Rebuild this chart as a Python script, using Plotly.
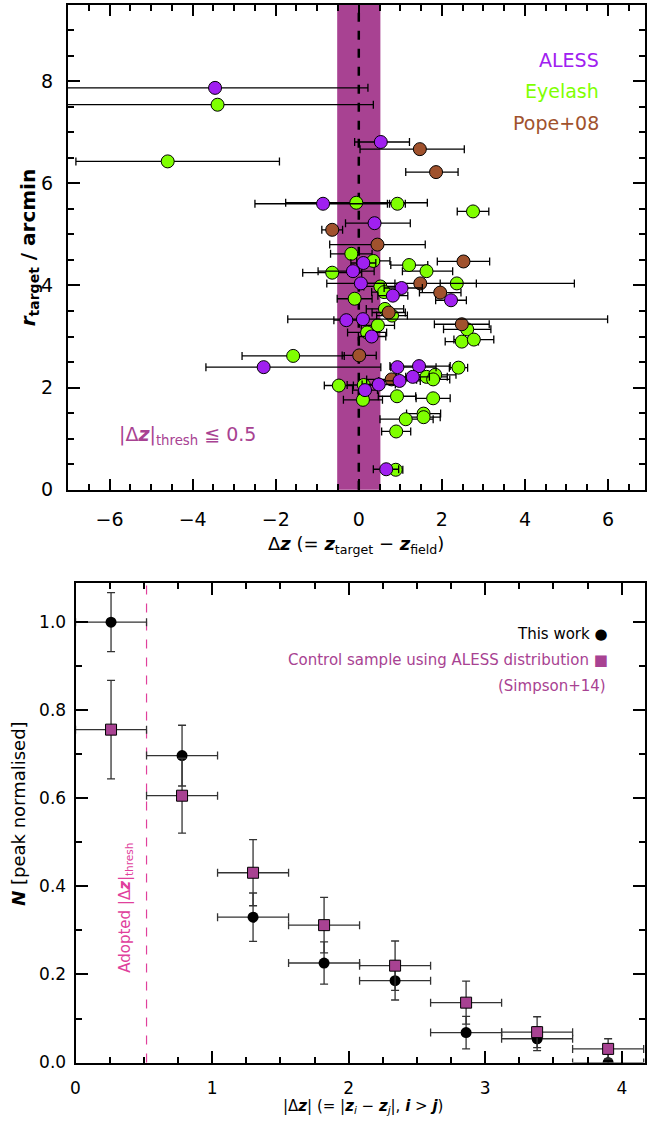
import plotly.graph_objects as go

# ---------------- top panel data ----------------
aless_dz = [-3.46, 0.53, -0.86, 0.38, 0.11, -0.14, 0.05, 1.03, 0.82, 2.22, -0.30, 0.10, 0.31, -2.29, 0.93, 1.45, 1.30, 0.98, 0.48, 0.15, 0.66]
aless_r = [7.87, 6.81, 5.60, 5.22, 4.44, 4.28, 4.04, 3.95, 3.80, 3.71, 3.32, 3.34, 3.00, 2.40, 2.40, 2.42, 2.21, 2.13, 2.06, 1.95, 0.40]
aless_ep = [3.68, 0.69, 1.55, 0.86, 0.30, 0.51, 0.82, 0.50, 0.36, 0.37, 0.30, 5.89, 0.34, 2.82, 0.93, 0.75, 0.40, 0.50, 0.40, 0.30, 0.30]
aless_em = [3.68, 0.63, 1.64, 0.70, 0.30, 0.84, 0.82, 0.42, 0.36, 0.37, 0.30, 1.81, 0.32, 1.39, 0.16, 0.70, 0.40, 0.50, 0.40, 0.30, 0.31]

eye_dz = [-3.40, -4.60, -0.06, 0.93, 2.75, -0.18, 0.35, 1.21, -0.64, 1.63, 2.36, 0.52, 0.61, -0.10, 0.63, 0.80, 0.46, 2.61, 0.20, 2.48, 2.77, -1.58, 2.40, 1.63, 1.84, 1.79, -0.48, 0.12, 0.10, 0.92, 1.79, 1.56, 1.56, 1.13, 0.90, 0.89]
eye_r = [7.54, 6.43, 5.62, 5.60, 5.45, 4.62, 4.48, 4.40, 4.25, 4.28, 4.04, 3.98, 3.87, 3.74, 3.54, 3.41, 3.22, 3.14, 3.08, 2.90, 2.94, 2.62, 2.39, 2.21, 2.25, 2.16, 2.04, 2.05, 1.76, 1.83, 1.79, 1.49, 1.42, 1.38, 1.14, 0.39]
eye_ep = [3.75, 2.69, 1.71, 0.19, 0.38, 0.50, 0.40, 0.45, 0.71, 0.63, 2.83, 0.40, 0.30, 0.42, 0.45, 0.37, 0.40, 0.57, 0.47, 0.40, 0.48, 1.23, 0.22, 0.50, 0.50, 0.40, 0.35, 0.40, 0.47, 0.45, 0.41, 0.41, 0.40, 0.66, 0.35, 0.17]
eye_em = [3.75, 2.21, 1.70, 0.19, 0.38, 0.50, 0.40, 0.44, 0.71, 0.58, 0.40, 0.40, 0.30, 0.42, 0.45, 0.37, 0.40, 0.57, 0.47, 0.40, 0.48, 1.23, 0.22, 0.50, 0.50, 0.40, 0.35, 0.40, 0.47, 0.45, 0.41, 0.41, 0.40, 0.62, 0.35, 0.17]

pope_dz = [1.47, 1.86, -0.64, 0.45, 2.52, 1.48, 1.96, 0.72, 2.48, 0.01, 0.79]
pope_r = [6.67, 6.22, 5.09, 4.80, 4.47, 4.04, 3.86, 3.47, 3.24, 2.63, 2.16]
pope_ep = [1.07, 0.53, 0.25, 1.15, 0.63, 1.35, 0.50, 0.40, 0.66, 0.41, 0.60]
pope_em = [1.44, 0.73, 0.25, 1.15, 0.63, 1.35, 0.50, 0.40, 0.66, 0.41, 0.60]

dz_thresh = 0.52

# ---------------- bottom panel data ----------------
bin_centres = [0.26, 0.78, 1.30, 1.82, 2.34, 2.86, 3.38, 3.90]
bin_halfwidth = [0.26] * 8
this_work_N = [1.00, 0.697, 0.330, 0.226, 0.186, 0.068, 0.054, 0.0]
this_work_err = [0.067, 0.069, 0.055, 0.048, 0.044, 0.037, 0.027, 0.02]
control_N = [0.756, 0.606, 0.431, 0.312, 0.220, 0.136, 0.069, 0.031]
control_err = [0.112, 0.085, 0.075, 0.063, 0.056, 0.049, 0.035, 0.023]

PURPLE = "#A020F0"
GREEN = "#7FFF00"
BROWN = "#A0522D"
MAGENTA = "#A84292"
PINK = "#E0409C"
FONT = "DejaVu Sans"

fig = go.Figure()

def add_top(xv, yv, ep, em, col):
    fig.add_trace(go.Scatter(
        x=xv, y=yv, mode="markers", xaxis="x", yaxis="y",
        marker=dict(size=13, color=col, line=dict(color="black", width=1)),
        error_x=dict(type="data", symmetric=False, array=ep, arrayminus=em,
                     color="black", thickness=1.3, width=4),
        showlegend=False))

add_top(eye_dz, eye_r, eye_ep, eye_em, GREEN)
add_top(pope_dz, pope_r, pope_ep, pope_em, BROWN)
add_top(aless_dz, aless_r, aless_ep, aless_em, PURPLE)

fig.add_trace(go.Scatter(
    x=bin_centres, y=this_work_N, mode="markers", xaxis="x2", yaxis="y2",
    marker=dict(size=11, color="black", symbol="circle"),
    error_x=dict(type="data", array=bin_halfwidth, color="#333333", thickness=1.3, width=4),
    error_y=dict(type="data", array=this_work_err, color="#333333", thickness=1.3, width=4),
    showlegend=False))
fig.add_trace(go.Scatter(
    x=bin_centres, y=control_N, mode="markers", xaxis="x2", yaxis="y2",
    marker=dict(size=11, color=MAGENTA, symbol="square", line=dict(color="black", width=1)),
    error_x=dict(type="data", array=bin_halfwidth, color="#333333", thickness=1.3, width=4),
    error_y=dict(type="data", array=control_err, color="#333333", thickness=1.3, width=4),
    showlegend=False))

W, H = 647, 1128
top_l, top_t, top_b = 63.7, 4.7, 494.5
bot_l, bot_t, bot_b = 71.3, 588.3, 1073.0

axis_common = dict(showline=True, linewidth=2, linecolor="black", mirror="ticks",
                   ticks="inside", tickwidth=1.5, tickcolor="black", showgrid=False,
                   zeroline=False)

fig.update_layout(
    width=W, height=H, margin=dict(l=0, r=0, t=0, b=0),
    paper_bgcolor="white", plot_bgcolor="white",
    font=dict(family=FONT, color="black"),
    xaxis=dict(domain=[top_l / W, 1], range=[-7, 6.89], anchor="y", dtick=2, tick0=0,
               ticklen=11, minor=dict(dtick=0.5, ticklen=6, ticks="inside", tickwidth=1.5, tickcolor="black"),
               tickfont=dict(size=19), ticklabelstandoff=12, **axis_common),
    yaxis=dict(domain=[1 - top_b / H, 1 - top_t / H], range=[0, 9.5], anchor="x", dtick=2, tick0=0,
               ticklen=12, minor=dict(dtick=0.5, ticklen=6, ticks="inside", tickwidth=1.5, tickcolor="black"),
               tickfont=dict(size=19), ticklabelstandoff=9, **axis_common),
    xaxis2=dict(domain=[bot_l / W, 1], range=[0, 4.17], anchor="y2", dtick=1, tick0=0,
                ticklen=12, minor=dict(dtick=0.25, ticklen=6, ticks="inside", tickwidth=1.5, tickcolor="black"),
                tickfont=dict(size=17), ticklabelstandoff=9, **axis_common),
    yaxis2=dict(domain=[1 - bot_b / H, 1 - bot_t / H], range=[0, 1.09], anchor="x2", dtick=0.2, tick0=0,
                tickformat=".1f", ticklen=12,
                minor=dict(dtick=0.1, ticklen=6, ticks="inside", tickwidth=1.5, tickcolor="black"),
                tickfont=dict(size=17), ticklabelstandoff=4, **axis_common),
)

# threshold band and zero line (top)
fig.add_shape(type="rect", xref="x", yref="y domain", x0=-dz_thresh, x1=dz_thresh, y0=0, y1=1,
              fillcolor=MAGENTA, line=dict(width=0), layer="below")
fig.add_shape(type="line", xref="x", yref="y domain", x0=0, x1=0, y0=0, y1=1,
              line=dict(color="black", width=2.5, dash="dash"), layer="below")
# threshold line (bottom)
fig.add_shape(type="line", xref="x2", yref="y2 domain", x0=dz_thresh, x1=dz_thresh, y0=0, y1=1,
              line=dict(color=PINK, width=1.2, dash="dash"), layer="below")

def px_ann(text, x, y, size, color="black", xanchor="center", yanchor="middle", angle=0):
    fig.add_annotation(text=text, x=x / W, y=1 - y / H, xref="paper", yref="paper",
                       showarrow=False, xanchor=xanchor, yanchor=yanchor, textangle=angle,
                       font=dict(size=size, color=color, family=FONT))

# top panel labels
px_ann("ALESS", 603, 61, 19, PURPLE, xanchor="right")
px_ann("Eyelash", 603, 92, 19, GREEN, xanchor="right")
px_ann("Pope+08", 603, 124, 19, BROWN, xanchor="right")
px_ann("|Δ<i><b>z</b></i>|<sub>thresh</sub> ≦ 0.5", 113, 440, 19, MAGENTA, xanchor="left")
px_ann("Δ<i><b>z</b></i> (= <i><b>z</b></i><sub>target</sub> − <i><b>z</b></i><sub>field</sub>)",
       355, 550, 18)
px_ann("<b><i>r</i><sub>target</sub> / arcmin</b>", 24, 250, 20, angle=-90)

# bottom panel labels
px_ann("This work ●", 612, 640, 15, "black", xanchor="right")
px_ann("Control sample using ALESS distribution ■", 612, 667, 15, MAGENTA, xanchor="right")
px_ann("(Simpson+14)", 610, 693, 15, MAGENTA, xanchor="right")
px_ann("Adopted |Δ<i><b>z</b></i>|<sub>thresh</sub>", 121, 917, 15, PINK, angle=-90)
px_ann("<i><b>N</b></i> [peak normalised]", 14, 822, 18, angle=-90)
px_ann("|Δ<i><b>z</b></i>| (= |<i><b>z</b></i><sub><i>i</i></sub> − <i><b>z</b></i><sub><i>j</i></sub>|, <i><b>i</b></i> > <i><b>j</b></i>)",
       362, 1117, 15)

fig.write_html("out.html")
